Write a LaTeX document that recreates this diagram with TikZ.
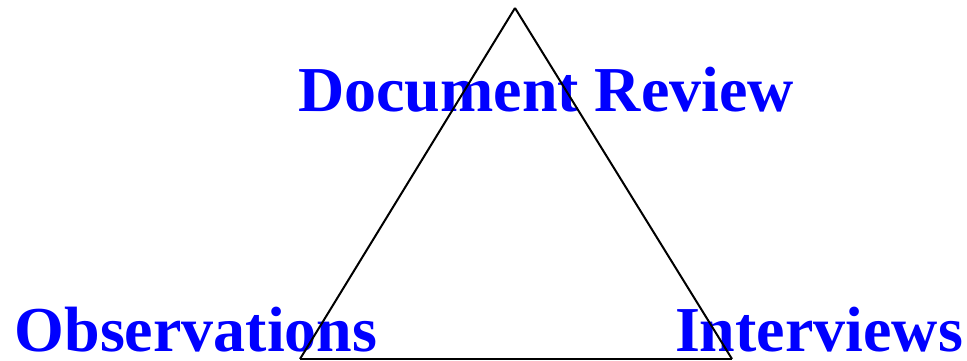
\documentclass[tikz,border=0pt]{standalone}
\usepackage{fontspec}
\setmainfont{Liberation Serif}
\definecolor{labelblue}{RGB}{0,0,255}
\tikzstyle{label}=[inner sep=0pt, anchor=base, text=labelblue, font=\fontsize{64}{70}\selectfont\bfseries]
\tikzstyle{side}=[line width=2pt]

\begin{document}
\begin{tikzpicture}[x=1pt, y=1pt]
      \useasboundingbox (0, 0) rectangle (967, 361);
      \node[label] (review) at (546, 249) {Document Review};
      \node[label] (obs) at (196, 9) {Observations};
      \node[label] (int) at (819, 9) {Interviews};

      \coordinate (top) at (515, 353);
      \coordinate (left) at (300, 2);
      \coordinate (right) at (732, 2);

      \draw[side] (top) -- (left);
      \draw[side] (left) -- (right);
      \draw[side] (right) -- (top);
    \end{tikzpicture}
\end{document}
